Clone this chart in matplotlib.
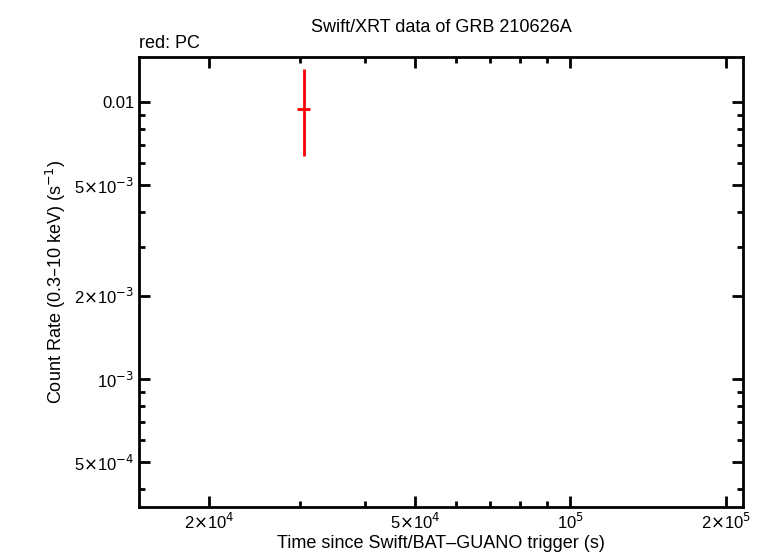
import matplotlib
matplotlib.use("Agg")
import matplotlib.pyplot as plt
from matplotlib.ticker import FixedLocator, NullFormatter, LogLocator

plt.rcParams['font.family'] = ['Liberation Sans', 'DejaVu Sans']

t = [30500]
t_lo = [29610]
t_hi = [31340]
rate = [0.00941]
rate_lo = [0.00640]
rate_hi = [0.01316]

fig = plt.figure(figsize=(7.66, 5.58), dpi=100)
ax = fig.add_axes([139/766, 1-507/558, (743-139)/766, (507-57)/558])
xerr = [[t[i]-t_lo[i] for i in range(len(t))], [t_hi[i]-t[i] for i in range(len(t))]]
yerr = [[rate[i]-rate_lo[i] for i in range(len(t))], [rate_hi[i]-rate[i] for i in range(len(t))]]
ax.errorbar(t, rate, xerr=xerr, yerr=yerr, fmt='none', ecolor='red', elinewidth=2, capsize=0)
ax.set_xscale('log'); ax.set_yscale('log')
ax.set_xlim(14630, 215700)
ax.set_ylim(3.45e-4, 0.01454)

xt = [2e4, 5e4, 1e5, 2e5]
xl = [r'2$\times$10$^4$', r'5$\times$10$^4$', r'10$^5$', r'2$\times$10$^5$']
yt = [5e-4, 1e-3, 2e-3, 5e-3, 0.01]
yl = [r'5$\times$10$^{-4}$', r'10$^{-3}$', r'2$\times$10$^{-3}$', r'5$\times$10$^{-3}$', '0.01']
ax.xaxis.set_major_locator(FixedLocator(xt)); ax.set_xticklabels(xl)
ax.yaxis.set_major_locator(FixedLocator(yt)); ax.set_yticklabels(yl)
ax.xaxis.set_minor_locator(LogLocator(base=10, subs=range(1, 10)))
ax.yaxis.set_minor_locator(LogLocator(base=10, subs=range(1, 10)))
ax.xaxis.set_minor_formatter(NullFormatter()); ax.yaxis.set_minor_formatter(NullFormatter())
ax.tick_params(which='both', direction='in', top=True, right=True, labelsize=12, width=2)
ax.tick_params(which='major', length=8)
ax.tick_params(which='minor', length=4)
for s in ax.spines.values():
    s.set_linewidth(2)
ax.set_xlabel('Time since Swift/BAT\u2013GUANO trigger (s)', fontsize=13, labelpad=2)
ax.set_ylabel('Count Rate (0.3\u201310 keV) (s$^{-1}$)', fontsize=13)
ax.set_title('Swift/XRT data of GRB 210626A', fontsize=13, pad=18)
ax.text(0, 1.012, 'red: PC', transform=ax.transAxes, fontsize=13, ha='left', va='bottom')
fig.savefig('out.png', dpi=100)
